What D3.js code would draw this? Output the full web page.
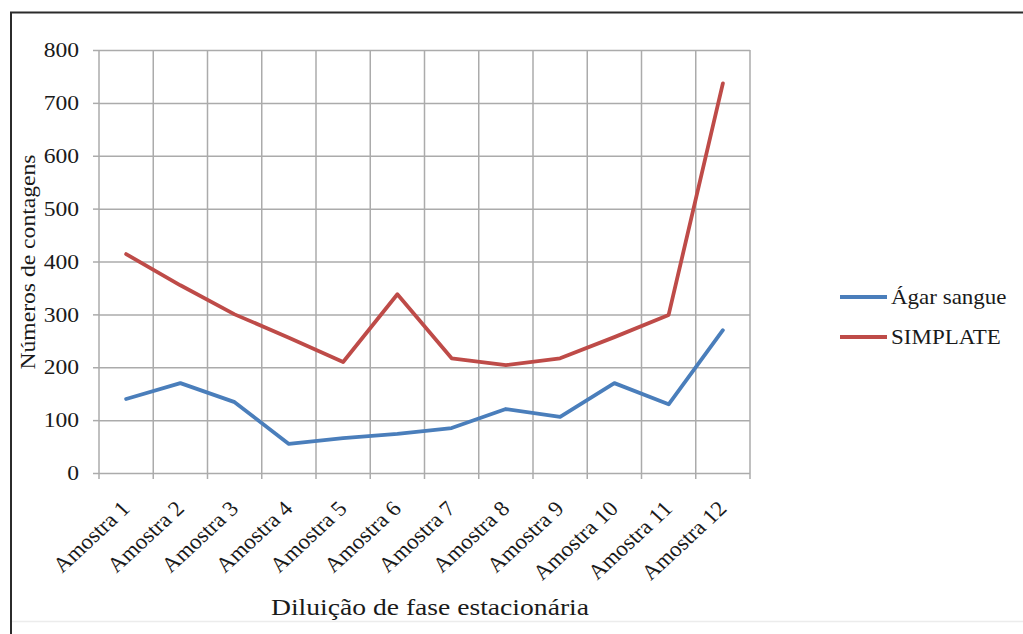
<!DOCTYPE html>
<html>
<head>
<meta charset="utf-8">
<script src="https://cdn.jsdelivr.net/npm/d3@7"></script>
<style>
  html, body { margin: 0; padding: 0; background: #fff; }
  svg { display: block; }
  svg text { font-family: 'Liberation Serif', 'Times New Roman', Times, serif; fill: #1a1a1a; }
</style>
</head>
<body>
<svg id="chart" width="1023" height="634"></svg>
<script>
// Sample categories along the x axis
const categories = ["Amostra 1", "Amostra 2", "Amostra 3", "Amostra 4", "Amostra 5", "Amostra 6",
                    "Amostra 7", "Amostra 8", "Amostra 9", "Amostra 10", "Amostra 11", "Amostra 12"];
// Colony counts per method
const agarSangue = [140, 170, 134, 55, 66, 74, 85, 121, 106, 170, 130, 270];
const simplate   = [414, 355, 300, 256, 210, 338, 217, 204, 217, 257, 299, 737];
const yTicks = [0, 100, 200, 300, 400, 500, 600, 700, 800];
const seriesNames = ["Ágar sangue", "SIMPLATE"];
const seriesColors = ["#4a7ebb", "#be4b48"];
const xTitle = "Diluição de fase estacionária";
const yTitle = "Números de contagens";

const FONT = "'Liberation Serif', 'Times New Roman', Times, serif";
const svg = d3.select("#chart").attr("font-family", FONT);
const plot = { left: 99, right: 750, top: 50, bottom: 473 };
const stretch = 1.15; // horizontal glyph stretch used for the labels

const x = d3.scaleBand().domain(categories).range([plot.left, plot.right]).paddingInner(0).paddingOuter(0);
const y = d3.scaleLinear().domain([0, 800]).range([plot.bottom, plot.top]);

// Outer frame
svg.append("line").attr("x1", 10).attr("x2", 1023).attr("y1", 12.5).attr("y2", 12.5)
  .attr("stroke", "#2b2b2b").attr("stroke-width", 2);
svg.append("line").attr("x1", 11).attr("x2", 11).attr("y1", 12).attr("y2", 634)
  .attr("stroke", "#2b2b2b").attr("stroke-width", 2);
svg.append("line").attr("x1", 12).attr("x2", 1023).attr("y1", 621.5).attr("y2", 621.5)
  .attr("stroke", "#ececec").attr("stroke-width", 1.5);

const gridColor = "#ababab";

// Horizontal gridlines plus the short ticks left of the plot
const yAxis = d3.axisLeft(y).tickValues(yTicks).tickSize(6).tickFormat("");
const gy = svg.append("g").attr("transform", `translate(${plot.left},0)`).call(yAxis);
gy.select(".domain").remove();
gy.selectAll(".tick line").attr("stroke", gridColor).attr("stroke-width", 1.5);
const yGrid = d3.axisRight(y).tickValues(yTicks).tickSize(plot.right - plot.left).tickFormat("");
const gg = svg.append("g").attr("transform", `translate(${plot.left},0)`).call(yGrid);
gg.select(".domain").remove();
gg.selectAll(".tick line").attr("stroke", gridColor).attr("stroke-width", 1.5);

// Y tick labels
svg.append("g").selectAll("text").data(yTicks).join("text")
  .attr("transform", d => `translate(79,${y(d)}) scale(${stretch},1)`)
  .attr("dy", "0.35em").attr("text-anchor", "end").attr("font-size", 20.5)
  .text(d => d);

// Vertical gridlines at category boundaries, with ticks below the axis
const bounds = categories.map(c => x(c)).concat([x(categories[categories.length - 1]) + x.bandwidth()]);
svg.append("g").selectAll("line").data(bounds).join("line")
  .attr("x1", d => d).attr("x2", d => d)
  .attr("y1", plot.top).attr("y2", plot.bottom + 6)
  .attr("stroke", gridColor).attr("stroke-width", 1.5);

// X tick labels, rotated
svg.append("g").selectAll("text").data(categories).join("text")
  .attr("transform", d => `translate(${x(d) + x.bandwidth() / 2 + 5},${plot.bottom + 37}) scale(1.08,1) rotate(-45)`)
  .attr("text-anchor", "end").attr("font-size", 21.5)
  .text(d => d);

// Axis titles
svg.append("text")
  .attr("transform", `translate(430,615) scale(${stretch},1)`)
  .attr("text-anchor", "middle").attr("font-size", 24)
  .text(xTitle);
svg.append("text")
  .attr("transform", "translate(35,262) rotate(-90)")
  .attr("text-anchor", "middle").attr("font-size", 20.5)
  .attr("textLength", 215).attr("lengthAdjust", "spacingAndGlyphs")
  .text(yTitle);

// Series lines
const line = d3.line()
  .x((d, i) => x(categories[i]) + x.bandwidth() / 2)
  .y(d => y(d));
[agarSangue, simplate].forEach((vals, k) => {
  svg.append("path").datum(vals)
    .attr("d", line)
    .attr("fill", "none")
    .attr("stroke", seriesColors[k])
    .attr("stroke-width", 3.8)
    .attr("stroke-linejoin", "round")
    .attr("stroke-linecap", "round");
});

// Legend
const legend = svg.append("g");
seriesNames.forEach((name, k) => {
  const ly = 297 + k * 40;
  legend.append("line").attr("x1", 840).attr("x2", 887).attr("y1", ly).attr("y2", ly)
    .attr("stroke", seriesColors[k]).attr("stroke-width", 3.8);
  legend.append("text")
    .attr("transform", `translate(891,${ly}) scale(${stretch},1)`)
    .attr("dy", "0.35em").attr("font-size", 20)
    .text(name);
});
</script>
</body>
</html>
